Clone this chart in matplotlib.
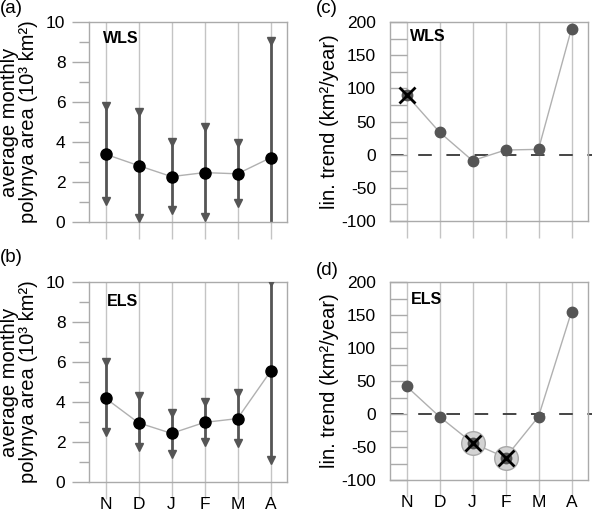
import matplotlib
matplotlib.use("Agg")
import matplotlib.pyplot as plt
import matplotlib.transforms as mtransforms
import numpy as np

plt.rcParams['font.family'] = ['Liberation Sans', 'DejaVu Sans']
plt.rcParams['axes.unicode_minus'] = False

months = ["N", "D", "J", "F", "M", "A"]

# (a) WLS average monthly polynya area (10^3 km^2)
wls_mean = [3.39, 2.82, 2.27, 2.47, 2.41, 3.21]
wls_upper = [5.8, 5.5, 4.0, 4.77, 3.95, 9.06]
wls_lower = [1.04, 0.2, 0.62, 0.26, 0.95, -0.6]

# (b) ELS average monthly polynya area (10^3 km^2)
els_mean = [4.19, 2.96, 2.43, 2.98, 3.17, 5.53]
els_upper = [5.98, 4.3, 3.47, 4.0, 4.47, 10.0]
els_lower = [2.5, 1.76, 1.42, 2.0, 1.93, 1.12]

# (c) WLS linear trend (km^2/year)
wls_trend = [90, 34, -9, 7, 8, 190]
wls_sig = [True, False, False, False, False, False]
wls_conf = [False, False, False, False, False, False]

# (d) ELS linear trend (km^2/year)
els_trend = [42, -4, -44, -66, -4, 155]
els_sig = [False, False, True, True, False, False]
els_conf = [False, False, True, True, False, False]

FS = 12.5
LFS = 14.5
SPINE = "#aaaaaa"
GRID = "#c4c4c4"
DARK = "#555555"

fig = plt.figure(figsize=(5.92, 5.14), dpi=100)
W, H = 592, 514

def make_ax(l, r, t, b):
    return fig.add_axes([l / W, 1 - b / H, (r - l) / W, (b - t) / H])

axA = make_ax(89, 287, 22, 222)
axB = make_ax(89, 287, 282, 482)
axC = make_ax(390, 588, 22, 221)
axD = make_ax(390, 588, 282, 480)

x = np.arange(len(months))

def style_common(ax, show_xlabels):
    ax.set_xlim(-0.5, len(months) - 0.5)
    for s in ax.spines.values():
        s.set_color(SPINE)
        s.set_linewidth(1.0)
    ax.set_xticks(x)
    ax.set_xticklabels(months if show_xlabels else [])
    ax.tick_params(axis='x', direction='out', length=12, width=1, color=GRID,
                   labelsize=FS, pad=-1, top=False)
    for xi in x:
        ax.axvline(xi, color=GRID, lw=1.0, zorder=0)

def style_area(ax, show_xlabels):
    style_common(ax, show_xlabels)
    ax.set_ylim(0, 10)
    ax.set_yticks([0, 2, 4, 6, 8, 10])
    ax.set_yticks([1, 3, 5, 7, 9], minor=True)
    ax.tick_params(axis='y', which='major', direction='out', length=12, width=1,
                   color=SPINE, labelsize=FS, pad=5)
    ax.tick_params(axis='y', which='minor', direction='out', length=7, width=1,
                   color=SPINE)
    ax.set_ylabel("average monthly\npolynya area (10³ km²)", fontsize=LFS,
                  linespacing=1.02)
    ax.yaxis.set_label_coords(-0.258, 0.5)

def style_trend(ax, show_xlabels):
    style_common(ax, show_xlabels)
    ax.set_ylim(-100, 200)
    ax.set_yticks([-100, -50, 0, 50, 100, 150, 200])
    ax.set_yticks([-75, -25, 25, 75, 125, 175], minor=True)
    ax.tick_params(axis='y', which='both', direction='in', length=12, width=1,
                   color=SPINE, labelsize=FS, pad=10)
    ax.set_ylabel("lin. trend (km²/year)", fontsize=LFS)
    ax.yaxis.set_label_coords(-0.258, 0.5)
    trans = mtransforms.blended_transform_factory(ax.transAxes, ax.transData)
    ax.plot([0.0, 1.03], [0, 0], transform=trans, color="#444444", lw=1.4,
            dashes=(7, 7.5), zorder=1, clip_on=False)

def draw_area(ax, mean, upper, lower):
    for xi, lo, hi in zip(x, lower, upper):
        ax.plot([xi, xi], [lo, hi], color=DARK, lw=2.0, zorder=2)
    ax.plot(x, upper, linestyle='none', marker='v', ms=6, color=DARK, zorder=3)
    ax.plot(x, lower, linestyle='none', marker='v', ms=6, color=DARK, zorder=3)
    ax.plot(x, mean, color="#b0b0b0", lw=1.0, zorder=4)
    ax.plot(x, mean, linestyle='none', marker='o', ms=8, color='black', zorder=5)

def draw_trend(ax, trend, sig, conf):
    ax.plot(x, trend, color="#b0b0b0", lw=1.0, zorder=2)
    for xi, v, c in zip(x, trend, conf):
        if c:
            ax.plot(xi, v, marker='o', ms=17, mfc="#d3d3d3", mec="#a8a8a8",
                    mew=1.0, linestyle='none', zorder=3)
    ax.plot(x, trend, linestyle='none', marker='o', ms=7.5, color=DARK, zorder=4)
    for xi, v, s in zip(x, trend, sig):
        if s:
            ax.plot(xi, v, marker='x', ms=11, mew=2.0, color='black',
                    linestyle='none', zorder=5)

style_area(axA, False)
draw_area(axA, wls_mean, wls_upper, wls_lower)
axA.text(0.07, 0.92, "WLS", transform=axA.transAxes, fontsize=11.5,
         fontweight='bold', va='center', ha='left')

style_area(axB, True)
draw_area(axB, els_mean, els_upper, els_lower)
axB.text(0.09, 0.905, "ELS", transform=axB.transAxes, fontsize=11.5,
         fontweight='bold', va='center', ha='left')

style_trend(axC, False)
draw_trend(axC, wls_trend, wls_sig, wls_conf)
axC.text(0.10, 0.925, "WLS", transform=axC.transAxes, fontsize=11.5,
         fontweight='bold', va='center', ha='left')

style_trend(axD, True)
draw_trend(axD, els_trend, els_sig, els_conf)
axD.text(0.106, 0.914, "ELS", transform=axD.transAxes, fontsize=11.5,
         fontweight='bold', va='center', ha='left')

PFS = 13.5
fig.text(0 / W, 1 - 0 / H, "(a)", fontsize=PFS, va='top', ha='left')
fig.text(0 / W, 1 - 249 / H, "(b)", fontsize=PFS, va='top', ha='left')
fig.text(316 / W, 1 - 0 / H, "(c)", fontsize=PFS, va='top', ha='left')
fig.text(316 / W, 1 - 262 / H, "(d)", fontsize=PFS, va='top', ha='left')

fig.savefig("out.png", dpi=100)
